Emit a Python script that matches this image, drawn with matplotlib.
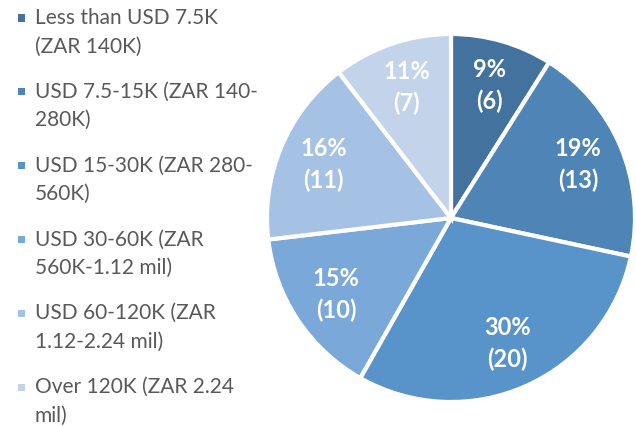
import matplotlib.pyplot as plt
from matplotlib.patches import Rectangle

categories = [
    "Less than USD 7.5K\n(ZAR 140K)",
    "USD 7.5-15K (ZAR 140-\n280K)",
    "USD 15-30K (ZAR 280-\n560K)",
    "USD 30-60K (ZAR\n560K-1.12 mil)",
    "USD 60-120K (ZAR\n1.12-2.24 mil)",
    "Over 120K (ZAR 2.24\nmil)",
]
counts = [6, 13, 20, 10, 11, 7]
pct_labels = [9, 19, 30, 15, 16, 11]
colors = ["#44729f", "#4e84b6", "#5894ca", "#7aa8d8", "#a5c1e3", "#c3d4ea"]

plt.rcParams['font.family'] = ['Lato', 'DejaVu Sans']

W, H = 636, 426
fig = plt.figure(figsize=(W / 100, H / 100), dpi=100)
# pie centre ~ (451, 218) px, radius ~ 184 px
ax = fig.add_axes([(451 - 184) / W, (H - 218 - 184) / H, 368 / W, 368 / H])

labels = ["%d%%\n(%d)" % (p, c) for p, c in zip(pct_labels, counts)]
wedges, texts = ax.pie(counts, colors=colors, startangle=90, counterclock=False,
                       labels=labels, labeldistance=0.75,
                       wedgeprops=dict(edgecolor="white", linewidth=3),
                       textprops=dict(color="white", fontsize=17, fontweight="bold",
                                      linespacing=1.45))
for t in texts:
    t.set_horizontalalignment("center")
    t.set_verticalalignment("center")
ax.set_xlim(-1, 1)
ax.set_ylim(-1, 1)

# legend on the left, marker lined up with first line of each entry
for i, (lab, col) in enumerate(zip(categories, colors)):
    y0 = 18 + 73.8 * i
    fig.add_artist(Rectangle(((18) / W, 1 - (y0 + 3.5) / H), 7 / W, 7 / H,
                             transform=fig.transFigure, facecolor=col,
                             edgecolor="none"))
    for j, line in enumerate(lab.split("\n")):
        fig.text(35 / W, 1 - (y0 + 28.5 * j) / H, line, fontsize=15,
                 color="#595959", ha="left", va="center")

fig.savefig("out.png", dpi=100)
